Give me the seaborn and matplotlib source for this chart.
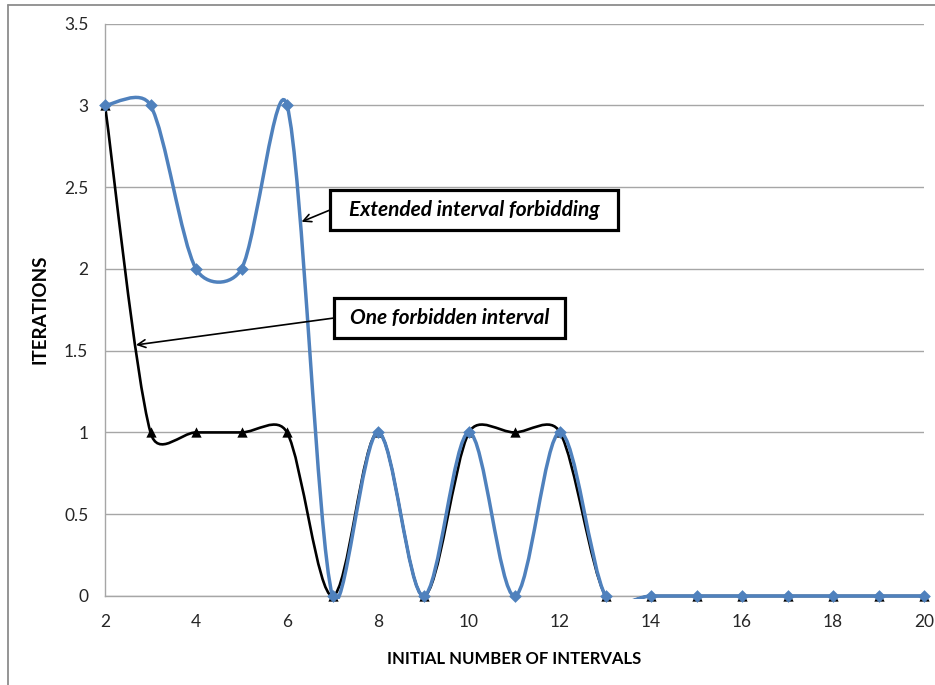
import numpy as np
import matplotlib
matplotlib.use("Agg")
import matplotlib.pyplot as plt
from matplotlib.path import Path
from matplotlib.patches import PathPatch, Rectangle
from matplotlib.lines import Line2D
import seaborn as sns

# ---- data ----
x_vals = list(range(2, 21))
one_forbidden = [3, 1, 1, 1, 1, 0, 1, 0, 1, 1, 1, 0, 0, 0, 0, 0, 0, 0, 0]
extended = [3, 3, 2, 2, 3, 0, 1, 0, 1, 0, 1, 0, 0, 0, 0, 0, 0, 0, 0]
y_ticks = [0, 0.5, 1, 1.5, 2, 2.5, 3, 3.5]
x_ticks = [2, 4, 6, 8, 10, 12, 14, 16, 18, 20]
label_one = "One forbidden interval"
label_ext = "Extended interval forbidding"
x_title = "INITIAL NUMBER OF INTERVALS"
y_title = "ITERATIONS"

BLUE = "#4F81BD"
GRID = "#A6A6A6"
FONT = "Lato"

sns.set_theme(style="white")
plt.rcParams["font.family"] = [FONT, "DejaVu Sans"]

W, H = 935, 685
fig = plt.figure(figsize=(W / 100, H / 100), dpi=100)
ax = fig.add_axes([105 / W, 1 - 596 / H, (924 - 105) / W, (596 - 23.5) / H])
ax.set_xlim(2, 20)
ax.set_ylim(0, 3.5)


def smooth_path(ax, xs, ys):
    """Excel-like smoothed line: cubic Bezier segments through the data points.
    Control points follow the neighbour chord (1/6 of it), shortened on the
    side of a comparatively short segment."""
    P = ax.transData.transform(np.column_stack([xs, ys]).astype(float))
    n = len(P)
    D = [np.hypot(*(P[i + 1] - P[i])) for i in range(n - 1)]
    out_cp, in_cp = [], []
    for i in range(n):
        a = P[i - 1] if i > 0 else P[i]
        b = P[i + 1] if i < n - 1 else P[i]
        T = (b - a) / 6.0
        dl = D[i - 1] if i > 0 else 0.0
        dr = D[i] if i < n - 1 else 0.0
        s = dl + dr
        fl = min(1.0, np.sqrt(2 * dl / s)) if s > 0 else 0.0
        fr = min(1.0, np.sqrt(2 * dr / s)) if s > 0 else 0.0
        in_cp.append(P[i] - T * fl)
        out_cp.append(P[i] + T * fr)
    verts = [P[0]]
    codes = [Path.MOVETO]
    for i in range(n - 1):
        verts += [out_cp[i], in_cp[i + 1], P[i + 1]]
        codes += [Path.CURVE4] * 3
    verts = ax.transData.inverted().transform(np.array(verts))
    return Path(verts, codes)


clip_rect = Rectangle((0, -0.006), 1, 1.012, transform=ax.transAxes,
                      facecolor="none", edgecolor="none")

# black series
pp1 = PathPatch(smooth_path(ax, x_vals, one_forbidden), facecolor="none",
                edgecolor="black", lw=1.9, zorder=3, capstyle="round")
ax.add_patch(pp1)
pp1.set_clip_path(clip_rect)
sns.scatterplot(x=x_vals, y=one_forbidden, marker="^", s=55, color="black",
                edgecolor="black", linewidth=0, ax=ax, zorder=4, clip_on=False)

# blue series
pp2 = PathPatch(smooth_path(ax, x_vals, extended), facecolor="none",
                edgecolor=BLUE, lw=2.5, zorder=5, capstyle="round")
ax.add_patch(pp2)
pp2.set_clip_path(clip_rect)
sns.scatterplot(x=x_vals, y=extended, marker="D", s=42, color=BLUE,
                edgecolor=BLUE, linewidth=0, ax=ax, zorder=6, clip_on=False)

ax.set_xlim(2, 20)
ax.set_ylim(0, 3.5)
ax.set_xticks(x_ticks)
ax.set_yticks(y_ticks)
ax.set_yticklabels([f"{v:g}" for v in y_ticks])
ax.set_xticklabels([str(v) for v in x_ticks])

ax.grid(axis="y", color=GRID, lw=1.0)
ax.grid(axis="x", visible=False)
ax.set_axisbelow(True)
for s in ["top", "right"]:
    ax.spines[s].set_visible(False)
for s in ["left", "bottom"]:
    ax.spines[s].set_color(GRID)
    ax.spines[s].set_linewidth(1.0)
ax.tick_params(axis="both", which="major", direction="out", length=5, width=1.0,
               color=GRID, labelsize=12.5, labelcolor="#262626")
ax.tick_params(axis="y", pad=7)
ax.tick_params(axis="x", pad=8)

ax.set_xlabel(x_title, fontsize=12, fontweight="bold", color="black")
ax.set_ylabel(y_title, fontsize=13.5, fontweight="bold", color="black")
ax.xaxis.label.set_va("center")
ax.yaxis.label.set_va("center")
ax.xaxis.set_label_coords(0.4994, (596 - 659.5) / 572.5)
ax.yaxis.set_label_coords((40 - 105) / 819, 0.5)

# annotation boxes (layout in data coordinates)
boxes = [
    (label_ext, (6.945, 2.2376), (13.275, 2.482), (6.32, 2.288)),
    (label_one, (7.033, 1.577), (12.11, 1.822), (2.68, 1.535)),
]
for text, (x0, y0), (x1, y1), tip in boxes:
    ax.add_patch(Rectangle((x0, y0), x1 - x0, y1 - y0, facecolor="white",
                           edgecolor="black", lw=2.3, zorder=10, clip_on=False))
    ax.text((x0 + x1) / 2, (y0 + y1) / 2, text, ha="center", va="center",
            fontsize=15, fontweight="bold", style="italic", color="black", zorder=11)
    ax.annotate("", xy=tip, xytext=(x0, (y0 + y1) / 2), textcoords="data",
                arrowprops=dict(arrowstyle="->", color="black", lw=1.2,
                                shrinkA=0, shrinkB=0, mutation_scale=14),
                zorder=9)

# outer chart-area border (top and left visible, rest cropped)
fig.add_artist(Line2D([8 / W, 1.0], [1 - 5 / H, 1 - 5 / H], transform=fig.transFigure,
                      color="#8C8C8C", lw=1.3))
fig.add_artist(Line2D([8 / W, 8 / W], [0.0, 1 - 5 / H], transform=fig.transFigure,
                      color="#8C8C8C", lw=1.3))

fig.savefig("out.png", dpi=100)
